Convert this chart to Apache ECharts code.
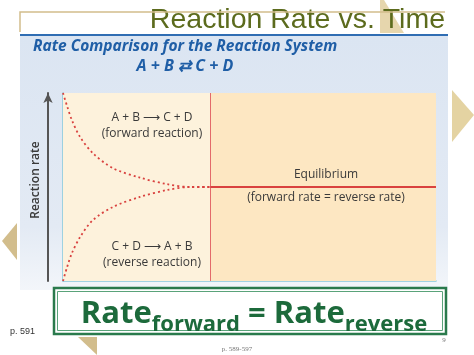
<!DOCTYPE html>
<html>
<head>
<meta charset="utf-8">
<script src="https://cdn.jsdelivr.net/npm/echarts@6/dist/echarts.min.js"></script>
<style>
  html, body { margin: 0; padding: 0; background: #fff; }
  #chart { width: 474px; height: 355px; }
</style>
</head>
<body>
<div id="chart"></div>
<script>
// time axis (arbitrary units) and rates
const times = [0, 0.11, 0.24, 0.46, 0.8, 1.34, 2.06, 2.79, 3.4, 3.95];
const forwardRate = [10, 9.3, 8.55, 7.65, 6.8, 6.0, 5.5, 5.15, 5.0, 5.0];
const reverseRate = [0, 0.74, 1.49, 2.34, 3.24, 3.94, 4.47, 4.84, 5.0, 5.0];
const equilibriumTime = 3.95;
const endTime = 10;
const equilibriumRate = 5;

const forwardLabel = ['A + B \u27F6 C + D', '(forward reaction)'];
const reverseLabel = ['C + D \u27F6 A + B', '(reverse reaction)'];
const equilibriumLabel = ['Equilibrium', '(forward rate = reverse rate)'];

const chart = echarts.init(document.getElementById('chart'), null, { renderer: 'canvas' });

const red = '#d9423f';
const tan = '#d2bd8c';
const txt = '#3a3a3a';
const font = '"Open Sans", "Noto Sans", sans-serif';

chart.setOption({
  animation: false,
  backgroundColor: '#ffffff',
  grid: { left: 63, right: 38, top: 93, bottom: 74 },
  xAxis: {
    type: 'value', min: 0, max: endTime,
    axisLine: { lineStyle: { color: '#86c8da', width: 1.5 } },
    axisTick: { show: false }, axisLabel: { show: false }, splitLine: { show: false },
  },
  yAxis: [{
    type: 'value', min: 0, max: 10,
    axisLine: { show: true, lineStyle: { color: '#86c8da', width: 1.5 } },
    axisTick: { show: false }, axisLabel: { show: false }, splitLine: { show: false },
  }, {
    type: 'value', min: 0, max: 10, position: 'left', offset: 15,
    name: 'Reaction rate', nameLocation: 'middle', nameGap: 6, nameRotate: 90,
    nameTextStyle: { color: txt, fontSize: 12, fontWeight: 600, fontFamily: font, padding: [0, 0, 0, 14] },
    axisLine: { show: true, symbol: ['none', 'arrow'], symbolSize: [7, 10], lineStyle: { color: '#555', width: 2 } },
    axisTick: { show: false }, axisLabel: { show: false }, splitLine: { show: false },
  }],
  series: [{
    name: 'forward', type: 'line', smooth: 0.3, showSymbol: false, z: 5,
    data: times.map((t, i) => [t, forwardRate[i]]),
    lineStyle: { color: red, width: 1.8, type: [2, 3] },
    markArea: {
      silent: true,
      data: [
        [{ xAxis: 0, itemStyle: { color: '#fdf2dc' } }, { xAxis: equilibriumTime }],
        [{ xAxis: equilibriumTime, itemStyle: { color: '#fde7c2' } }, { xAxis: endTime }],
      ],
    },
    markLine: {
      silent: true, symbol: 'none', label: { show: false },
      lineStyle: { color: '#e36a6a', width: 1, type: 'solid' },
      data: [{ xAxis: equilibriumTime }],
    },
  }, {
    name: 'reverse', type: 'line', smooth: 0.3, showSymbol: false, z: 5,
    data: times.map((t, i) => [t, reverseRate[i]]),
    lineStyle: { color: red, width: 1.8, type: [2, 3] },
  }, {
    name: 'equilibrium', type: 'line', showSymbol: false, z: 5,
    data: [[equilibriumTime, equilibriumRate], [endTime, equilibriumRate]],
    lineStyle: { color: red, width: 2 },
  }],
  graphic: [
    // slide panel
    { type: 'rect', z: -100, shape: { x: 20, y: 36, width: 428, height: 254 },
      style: { fill: new echarts.graphic.LinearGradient(0, 0, 0, 1, [
        { offset: 0, color: '#dbe5f2' }, { offset: 0.75, color: '#e3eaf4' }, { offset: 1, color: '#f3f6fa' }]) } },
    { type: 'line', z: 100, shape: { x1: 20, y1: 35, x2: 448, y2: 35 }, style: { stroke: '#2f6db3', lineWidth: 2 } },
    { type: 'polygon', z: 90, shape: { points: [[380, 0], [384, 0], [404, 33], [380, 33]] }, style: { fill: '#e2cf9f', opacity: 0.85 } },
    { type: 'text', z: 100, style: { text: 'Reaction Rate vs. Time', x: 445, y: 20, textAlign: 'right', textVerticalAlign: 'middle',
      fontSize: 28.5, fontFamily: '"Liberation Sans", Arial, sans-serif', fill: '#5c6b1d' } },
    { type: 'polyline', z: 101, shape: { points: [[20, 32], [20, 12], [445, 12]] }, style: { stroke: tan, lineWidth: 1.5, fill: null } },
    { type: 'text', z: 100, style: { text: 'Rate Comparison for the Reaction System', x: 33, y: 47, textVerticalAlign: 'middle',
      fontSize: 15.5, fontWeight: 'bold', fontStyle: 'italic', fontFamily: font, fill: '#1f5ea6' } },
    { type: 'text', z: 100, style: { text: 'A + B \u21C4 C + D', x: 185, y: 66.5, textAlign: 'center', textVerticalAlign: 'middle',
      fontSize: 16, fontWeight: 'bold', fontStyle: 'italic', fontFamily: font, fill: '#1f5ea6' } },
    // annotations inside the plot
    { type: 'text', z: 100, style: { text: forwardLabel.join('\n'), x: 152, y: 109, textAlign: 'center', lineHeight: 16.5,
      fontSize: 12, fontFamily: font, fill: txt } },
    { type: 'text', z: 100, style: { text: reverseLabel.join('\n'), x: 152, y: 238, textAlign: 'center', lineHeight: 16.5,
      fontSize: 12, fontFamily: font, fill: txt } },
    { type: 'text', z: 100, style: { text: equilibriumLabel[0], x: 326, y: 169, textAlign: 'center',
      fontSize: 12, fontFamily: font, fill: txt } },
    { type: 'text', z: 100, style: { text: equilibriumLabel[1], x: 326, y: 192, textAlign: 'center',
      fontSize: 12, fontFamily: font, fill: txt } },
    // green summary box
    { type: 'rect', z: 100, shape: { x: 54, y: 288, width: 392, height: 46 }, style: { fill: '#ffffff', stroke: '#2a7a4c', lineWidth: 2.5 } },
    { type: 'rect', z: 100, shape: { x: 57.5, y: 291.5, width: 385, height: 39 }, style: { fill: null, stroke: '#5aa37a', lineWidth: 1 } },
    { type: 'text', z: 101, style: {
      text: '{a|Rate}{b|forward}{a| = Rate}{b|reverse}', x: 254, y: 310, textAlign: 'center', textVerticalAlign: 'middle',
      rich: {
        a: { fontSize: 31, fontWeight: 'bold', fontFamily: font, fill: '#1c6a3b', lineHeight: 40, verticalAlign: 'bottom' },
        b: { fontSize: 22, fontWeight: 'bold', fontFamily: font, fill: '#1c6a3b', lineHeight: 24, verticalAlign: 'bottom', padding: [0, 0, -6, 0] },
      } } },
    // footer
    { type: 'text', z: 100, style: { text: 'p. 591', x: 10, y: 332, textVerticalAlign: 'middle', fontSize: 9, fontFamily: '"Liberation Sans", Arial', fill: '#333' } },
    { type: 'text', z: 100, style: { text: 'p. 589-597', x: 237, y: 349, textAlign: 'center', textVerticalAlign: 'middle', fontSize: 7, fontFamily: '"Liberation Serif", serif', fill: '#777' } },
    { type: 'text', z: 100, style: { text: '9', x: 444, y: 340, textAlign: 'center', textVerticalAlign: 'middle', fontSize: 7, fontFamily: '"Liberation Serif", serif', fill: '#777' } },
    // decorative triangles
    { type: 'polygon', z: 100, shape: { points: [[452, 90], [474, 115], [452, 142]] }, style: { fill: '#e4d3a2' } },
    { type: 'polygon', z: 100, shape: { points: [[2, 241], [17, 223], [17, 260]] }, style: { fill: tan } },
    { type: 'polygon', z: 100, shape: { points: [[78, 337], [97, 337], [97, 355]] }, style: { fill: tan } },
  ],
});
</script>
</body>
</html>
